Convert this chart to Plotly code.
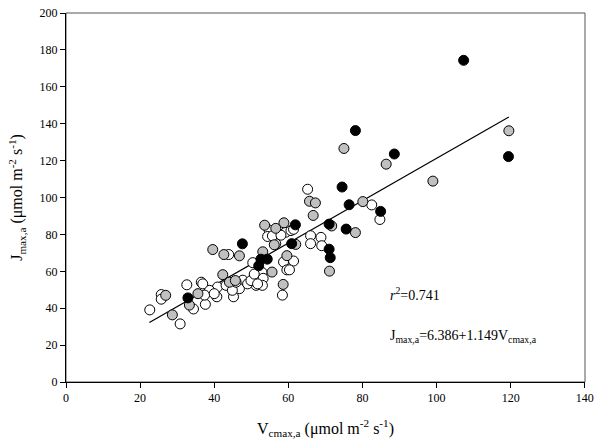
import plotly.graph_objects as go

# Black-filled points
black_x = [107.3, 78.1, 88.6, 119.4, 74.5, 76.4, 84.9, 75.6, 71.0, 61.9, 71.0, 71.3, 60.9, 47.6, 52.6, 54.3, 52.0, 32.9]
black_y = [174.4, 136.3, 123.6, 122.2, 105.7, 96.1, 92.5, 82.9, 85.6, 85.2, 72.0, 67.4, 75.0, 74.9, 66.6, 66.6, 63.0, 45.6]

# Grey-filled points
grey_x = [119.5, 75.0, 86.4, 99.0, 80.1, 65.7, 67.3, 66.7, 71.7, 78.1, 62.0, 71.1, 58.8, 53.6, 56.6, 56.2, 59.6,
          55.6, 58.6, 39.6, 42.6, 46.8, 42.3, 44.1, 45.7, 35.6, 33.3, 26.9, 28.7, 53.1]
grey_y = [136.2, 126.6, 118.1, 108.9, 97.8, 98.0, 97.1, 90.3, 84.6, 81.0, 74.6, 60.1, 86.3, 85.0, 83.3, 74.4, 68.5,
          59.6, 52.9, 71.8, 69.1, 68.4, 58.2, 54.1, 55.0, 47.9, 41.7, 47.0, 36.4, 70.6]

# Open (white) points
white_x = [84.7, 82.5, 65.2, 54.8, 54.4, 56.6, 58.0, 59.3, 60.7, 61.4, 55.7, 58.0, 66.0, 68.8, 66.0, 69.0, 58.7,
           61.4, 59.6, 60.3, 58.4, 50.4, 52.9, 53.2, 51.3, 53.0, 43.9, 47.7, 46.8, 45.2, 49.0, 40.9, 38.7, 40.7,
           36.5, 32.6, 34.4, 37.6, 25.7, 25.7, 22.6, 30.8, 36.9, 37.4, 40.0, 43.2, 44.9, 45.9, 49.9, 50.8, 51.7]
white_y = [88.1, 96.0, 104.5, 82.4, 78.9, 75.0, 82.4, 81.2, 82.1, 82.8, 79.2, 79.6, 79.3, 78.4, 75.0, 73.9, 65.1,
           65.6, 60.8, 60.8, 47.1, 64.7, 59.4, 56.2, 52.4, 52.4, 69.1, 55.2, 50.6, 46.2, 53.2, 51.5, 49.7, 46.2,
           54.1, 52.7, 39.6, 42.1, 47.4, 44.9, 39.1, 31.5, 53.2, 47.1, 47.9, 52.4, 49.7, 54.1, 55.0, 58.5, 53.2]

# Regression: J = a + b*V
reg_a = 6.386
reg_b = 1.149
reg_x = [22.5, 119.5]
reg_y = [reg_a + reg_b * v for v in reg_x]

x_ticks = [0, 20, 40, 60, 80, 100, 120, 140]
y_ticks = [0, 20, 40, 60, 80, 100, 120, 140, 160, 180, 200]

FONT = "Liberation Serif, Times New Roman, serif"

fig = go.Figure()
fig.add_trace(go.Scatter(x=reg_x, y=reg_y, mode="lines",
                         line=dict(color="black", width=1.2), showlegend=False, hoverinfo="skip"))
fig.add_trace(go.Scatter(x=white_x, y=white_y, mode="markers",
                         marker=dict(size=10, color="white", line=dict(color="black", width=1)),
                         showlegend=False))
fig.add_trace(go.Scatter(x=grey_x, y=grey_y, mode="markers",
                         marker=dict(size=10, color="#c0c0c0", line=dict(color="black", width=1)),
                         showlegend=False))
fig.add_trace(go.Scatter(x=black_x, y=black_y, mode="markers",
                         marker=dict(size=10, color="black", line=dict(color="black", width=1)),
                         showlegend=False))

fig.add_annotation(x=87.0, y=47.7, xref="x", yref="y", xanchor="left", yanchor="middle",
                   text="<i>r</i><sup>2</sup>=0.741", showarrow=False,
                   font=dict(family=FONT, size=14, color="black"))
fig.add_annotation(x=87.0, y=24.5, xref="x", yref="y", xanchor="left", yanchor="middle",
                   text="J<sub>max,a</sub>=6.386+1.149V<sub>cmax,a</sub>", showarrow=False,
                   font=dict(family=FONT, size=14, color="black"))

fig.update_layout(
    width=600, height=444,
    margin=dict(l=66, r=13, t=6, b=62),
    paper_bgcolor="white", plot_bgcolor="white",
    font=dict(family=FONT, size=12, color="black"),
    xaxis=dict(range=[0, 140.05], tickvals=x_ticks, ticks="outside", ticklen=5, tickcolor="black",
               showline=True, linecolor="black", linewidth=1, mirror=False, showgrid=False, zeroline=False,
               tickfont=dict(family=FONT, size=12), ticklabeloverflow="allow",
               title=dict(text="V<sub>cmax,a</sub> (μmol m<sup>-2</sup> s<sup>-1</sup>)",
                          font=dict(family=FONT, size=16), standoff=18)),
    yaxis=dict(range=[0, 200.05], tickvals=y_ticks, ticks="outside", ticklen=5, tickcolor="black",
               showline=True, linecolor="black", linewidth=1, mirror=False, showgrid=False, zeroline=False,
               tickfont=dict(family=FONT, size=12), ticklabeloverflow="allow",
               title=dict(text="J<sub>max,a</sub> (μmol m<sup>-2</sup> s<sup>-1</sup>)",
                          font=dict(family=FONT, size=16), standoff=12)),
    shapes=[dict(type="rect", xref="paper", yref="paper", x0=0, y0=0, x1=1, y1=1,
                 line=dict(color="#555555", width=1), layer="below")],
)

fig.write_html("out.html", config={"displayModeBar": False},
               post_script="document.body.style.margin='0';document.body.style.overflow='hidden';")
